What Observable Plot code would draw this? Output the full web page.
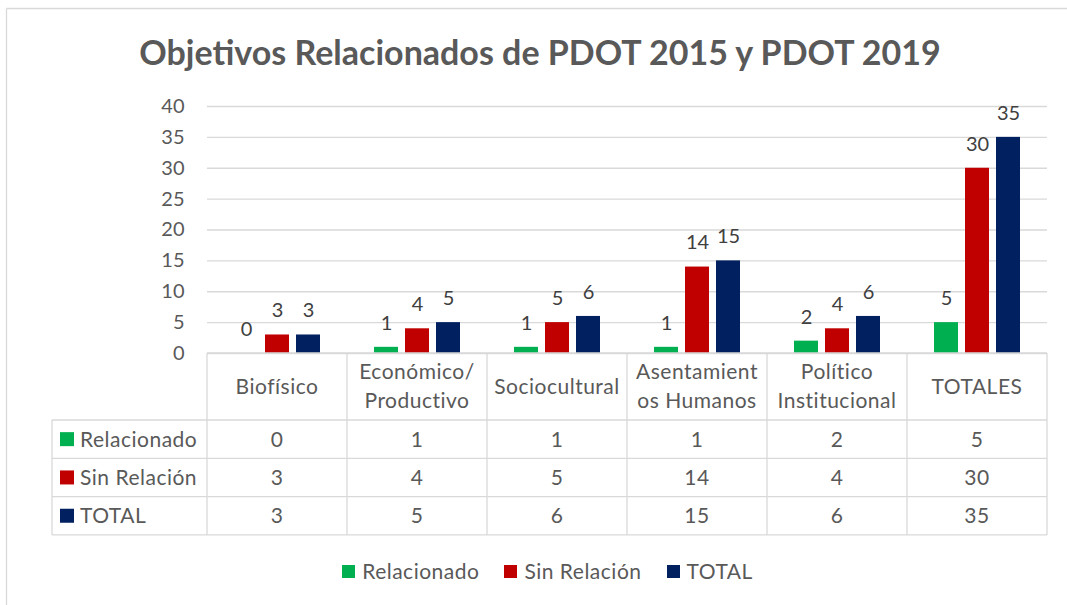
<!DOCTYPE html>
<html><head><meta charset="utf-8">
<script src="https://cdn.jsdelivr.net/npm/d3@7"></script>
<script src="https://cdn.jsdelivr.net/npm/@observablehq/plot@0.6"></script>
<style>
body{margin:0;background:#fff;}
#wrap{position:relative;width:1067px;height:605px;overflow:hidden;font-family:Lato,"Open Sans",sans-serif;color:#595959;background:#fff;}
#title{position:absolute;left:6.5px;width:1067px;top:33px;text-align:center;font-weight:bold;font-size:34px;line-height:38px;color:#595959;white-space:nowrap;}
#legend{position:absolute;left:14px;width:1067px;top:558px;display:flex;justify-content:center;gap:25px;font-size:21px;letter-spacing:0.5px;line-height:26px;color:#595959;}
#legend .item{display:flex;align-items:center;gap:7px;}
#legend .sw{width:13px;height:13px;display:inline-block;}
svg.overlay{position:absolute;left:0;top:0;pointer-events:none;}
</style></head><body><div id="wrap"><div id="title">Objetivos Relacionados de PDOT 2015 y PDOT 2019</div></div>
<script>
const categories = ["Biofísico","Económico/Productivo","Sociocultural","Asentamientos Humanos","Político Institucional","TOTALES"];
const headerLabels = ["Biofísico","Económico/\nProductivo","Sociocultural","Asentamient\nos Humanos","Político\nInstitucional","TOTALES"];
const series = ["Relacionado","Sin Relación","TOTAL"];
const colors = ["#00b050","#c00000","#002060"];
const relacionado = [0,1,1,1,2,5];
const sinRelacion = [3,4,5,14,4,30];
const total = [3,5,6,15,6,35];
const yTicks = [0,5,10,15,20,25,30,35,40];

const seriesValues = [relacionado, sinRelacion, total];
const rows = categories.flatMap((c,i)=> series.map((s,j)=>({category:c, series:s, value:seriesValues[j][i]})));

const wrap = document.getElementById("wrap");
const W = 1067, H = 380;
const chart = Plot.plot({
  width: W, height: H,
  marginLeft: 206, marginRight: 19, marginTop: 106, marginBottom: 27,
  style: {fontFamily: "Lato, 'Open Sans', sans-serif", fontSize: "20px", background: "transparent"},
  fx: {domain: categories, padding: 0, axis: null},
  x: {domain: series, paddingInner: 0.21, paddingOuter: 0.86, axis: null},
  y: {domain: [0, 40], axis: null},
  color: {domain: series, range: colors},
  marks: [
    Plot.gridY(yTicks, {stroke: "#d9d9d9", strokeOpacity: 1, strokeWidth: 1.3}),
    Plot.axisY(yTicks, {tickSize: 0, tickPadding: 23, fontSize: 20, fill: "#595959", label: null}),
    Plot.barY(rows, {fx: "category", x: "series", y: "value", fill: "series"}),
    Plot.text(rows, {fx: "category", x: "series", y: "value", text: d => String(d.value), dy: -24, fontSize: 20, fill: "#404040"})
  ]
});
chart.style.position = "absolute";
chart.style.left = "0px";
chart.style.top = "0px";
wrap.appendChild(chart);

// data table + frame overlay
const fxS = chart.scale("fx");
const yS = chart.scale("y");
const bounds = categories.map(c => fxS.apply(c));
bounds.push(bounds[bounds.length-1] + fxS.bandwidth);
const tableLeft = 52;
const top0 = yS.apply(0);
const headerH = 67, rowH = 38.3;
const rowY = [top0 + headerH];
for (let k = 1; k <= series.length; k++) rowY.push(top0 + headerH + k*rowH);

const svg = d3.select(wrap).append("svg").attr("class","overlay").attr("width",W).attr("height",605)
  .attr("font-family","Lato, 'Open Sans', sans-serif").attr("font-size",21).attr("letter-spacing","0.5px").attr("fill","#595959");
const gridC = "#d9d9d9";
// outer frame (top and left)
svg.append("line").attr("x1",6.5).attr("x2",W).attr("y1",8.5).attr("y2",8.5).attr("stroke",gridC).attr("stroke-width",1.3);
svg.append("line").attr("x1",6.5).attr("x2",6.5).attr("y1",8.5).attr("y2",605).attr("stroke",gridC).attr("stroke-width",1.3);
// horizontal lines
svg.append("line").attr("x1",bounds[0]).attr("x2",bounds[bounds.length-1]).attr("y1",top0).attr("y2",top0).attr("stroke",gridC).attr("stroke-width",1.3);
rowY.forEach(y => svg.append("line").attr("x1",tableLeft).attr("x2",bounds[bounds.length-1]).attr("y1",y).attr("y2",y).attr("stroke",gridC).attr("stroke-width",1.3));
// vertical lines
bounds.forEach(x => svg.append("line").attr("x1",x).attr("x2",x).attr("y1",top0).attr("y2",rowY[rowY.length-1]).attr("stroke",gridC).attr("stroke-width",1.3));
svg.append("line").attr("x1",tableLeft).attr("x2",tableLeft).attr("y1",rowY[0]).attr("y2",rowY[rowY.length-1]).attr("stroke",gridC).attr("stroke-width",1.3);
// header labels
headerLabels.forEach((lab,i) => {
  const cx = (bounds[i]+bounds[i+1])/2;
  const lines = lab.split("\n");
  const cy = top0 + headerH/2;
  const lh = 29;
  const t = svg.append("text").attr("text-anchor","middle");
  lines.forEach((ln,k) => {
    t.append("tspan").attr("x",cx).attr("y", cy + (k - (lines.length-1)/2)*lh).attr("dy","0.35em").text(ln);
  });
});
// rows
series.forEach((s,j) => {
  const cy = (rowY[j]+rowY[j+1])/2;
  svg.append("rect").attr("x",60).attr("y",cy-7).attr("width",14).attr("height",14).attr("fill",colors[j]);
  svg.append("text").attr("x",80).attr("y",cy).attr("dy","0.35em").text(s);
  seriesValues[j].forEach((v,i) => {
    svg.append("text").attr("x",(bounds[i]+bounds[i+1])/2).attr("y",cy).attr("dy","0.35em").attr("text-anchor","middle").text(String(v));
  });
});

// legend
const legend = d3.select(wrap).append("div").attr("id","legend");
series.forEach((s,j) => {
  const it = legend.append("div").attr("class","item");
  it.append("span").attr("class","sw").style("background",colors[j]);
  it.append("span").text(s);
});
</script>
</body></html>
